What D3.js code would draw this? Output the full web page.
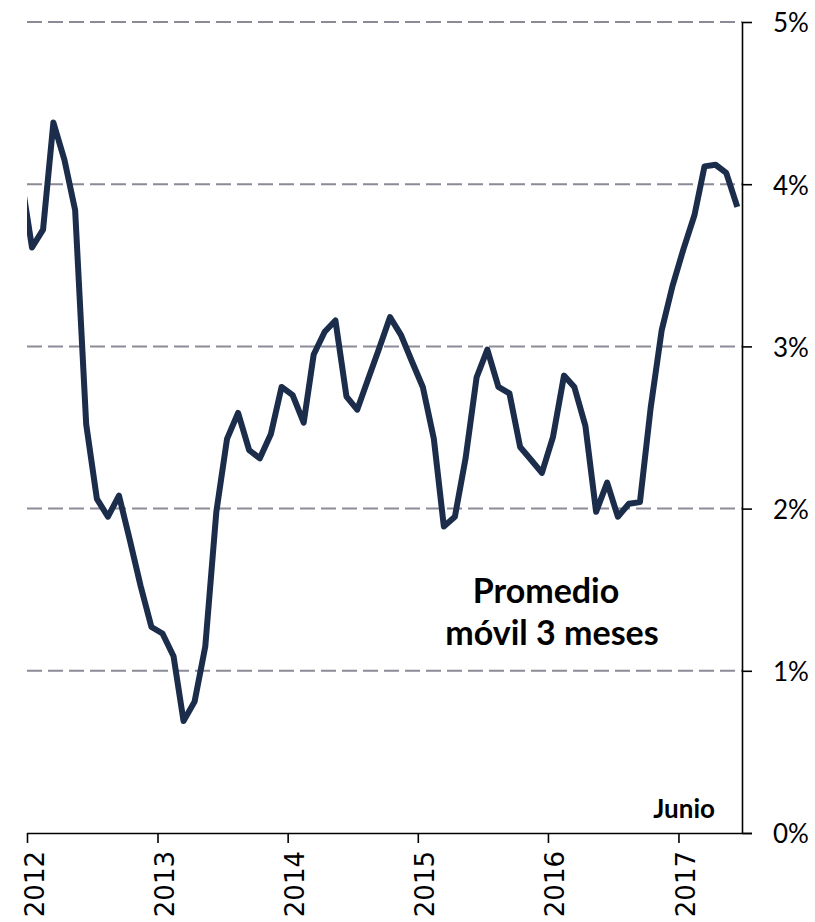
<!DOCTYPE html>
<html>
<head>
<meta charset="utf-8">
<script src="https://cdn.jsdelivr.net/npm/d3@7"></script>
<style>
  html, body { margin: 0; padding: 0; background: #fff; }
  svg { display: block; }
</style>
</head>
<body>
<svg id="chart" width="815" height="922"></svg>
<script>
// ---- Data ----
const firstMonth = "2011-12";   // first point (partly outside the plot, clipped)
const values = [
  4.05,
  3.61, 3.72, 4.38, 4.15, 3.84, 2.52, 2.06, 1.95, 2.08, 1.81, 1.52, 1.27,
  1.23, 1.09, 0.69, 0.81, 1.15, 1.98, 2.43, 2.59, 2.36, 2.31, 2.46, 2.75,
  2.70, 2.53, 2.95, 3.09, 3.16, 2.69, 2.61, 2.80, 2.99, 3.18, 3.07, 2.91,
  2.75, 2.43, 1.89, 1.95, 2.31, 2.81, 2.98, 2.75, 2.71, 2.38, 2.30, 2.22,
  2.44, 2.82, 2.75, 2.51, 1.98, 2.16, 1.95, 2.03, 2.04, 2.62, 3.10, 3.37,
  3.60, 3.81, 4.11, 4.12, 4.07, 3.86
];
const yearTicks = [2012, 2013, 2014, 2015, 2016, 2017];
const yTicks = [0, 1, 2, 3, 4, 5];
const yTickLabels = ["0%", "1%", "2%", "3%", "4%", "5%"];
const noteLines = ["Promedio", "móvil 3 meses"];
const endLabel = "Junio";

(function () {
// ---- Layout ----
const mLeft = 27, mRight = 742, mTop = 22, mBottom = 833;
const svg = d3.select("#chart");

const parse = d3.timeParse("%Y-%m");
const start = parse(firstMonth);
const data = values.map((v, i) => {
  const m = d3.timeMonth.offset(start, i);
  return { date: new Date(m.getFullYear(), m.getMonth(), 15), value: v };
});

const x = d3.scaleTime()
  .domain([new Date(2012, 0, 1), new Date(2017, 6, 1)])
  .range([mLeft, mRight + 1]);
const y = d3.scaleLinear().domain([0, 5]).range([mBottom, mTop]);

// gridlines
svg.append("g").selectAll("line")
  .data(yTicks.filter(d => d > 0))
  .join("line")
  .attr("x1", mLeft).attr("x2", mRight)
  .attr("y1", d => y(d)).attr("y2", d => y(d))
  .attr("stroke", "#8b8b97")
  .attr("stroke-width", 2)
  .attr("stroke-dasharray", "15,6");

// clip
svg.append("clipPath").attr("id", "clip")
  .append("rect").attr("x", mLeft).attr("y", 0)
  .attr("width", mRight - mLeft).attr("height", mBottom);

// line
const line = d3.line().x(d => x(d.date)).y(d => y(d.value));
svg.append("path")
  .datum(data)
  .attr("clip-path", "url(#clip)")
  .attr("d", line)
  .attr("fill", "none")
  .attr("stroke", "#1b2d4b")
  .attr("stroke-width", 6)
  .attr("stroke-linejoin", "round");

// bottom axis
const xAxis = d3.axisBottom(x)
  .tickValues(yearTicks.map(yr => new Date(yr, 0, 1)))
  .tickSize(10)
  .tickFormat(d3.timeFormat("%Y"));
const gx = svg.append("g").attr("transform", `translate(0,${mBottom})`).call(xAxis);
gx.select(".domain").attr("d", `M${mLeft},0.5H${mRight + 10}`).attr("stroke", "#000").attr("stroke-width", 1.6);
gx.selectAll(".tick line").attr("stroke", "#000").attr("stroke-width", 1.6);
gx.selectAll(".tick text")
  .attr("font-family", "'DejaVu Sans', Verdana, sans-serif")
  .attr("font-size", 26)
  .attr("fill", "#000")
  .attr("text-anchor", "end")
  .attr("dy", null)
  .attr("y", 0)
  .attr("transform", "translate(16,18) rotate(-90)");

// right axis
const yAxis = d3.axisRight(y)
  .tickValues(yTicks)
  .tickSize(10)
  .tickFormat((d, i) => yTickLabels[i]);
const gy = svg.append("g").attr("transform", `translate(${mRight},0)`).call(yAxis);
gy.select(".domain").attr("d", `M0.5,${mTop}V${mBottom}`).attr("stroke", "#000").attr("stroke-width", 1.6);
gy.selectAll(".tick line").attr("stroke", "#000").attr("stroke-width", 1.6);
gy.selectAll(".tick text")
  .attr("font-family", "Lato, 'Open Sans', sans-serif")
  .attr("font-size", 26)
  .attr("fill", "#000")
  .attr("x", 31)
  .attr("dy", "0.38em");

// annotations
const note = svg.append("g")
  .attr("font-family", "Lato, 'Open Sans', sans-serif")
  .attr("font-weight", "bold")
  .attr("font-size", 34)
  .attr("fill", "#000")
  .attr("text-anchor", "middle");
note.append("text").attr("x", 546).attr("y", 603).text(noteLines[0]);
note.append("text").attr("x", 552).attr("y", 645).text(noteLines[1]);

svg.append("text")
  .attr("x", 715).attr("y", 818)
  .attr("text-anchor", "end")
  .attr("font-family", "Lato, 'Open Sans', sans-serif")
  .attr("font-weight", "bold")
  .attr("font-size", 26)
  .attr("fill", "#000")
  .text(endLabel);
})();
</script>
</body>
</html>
